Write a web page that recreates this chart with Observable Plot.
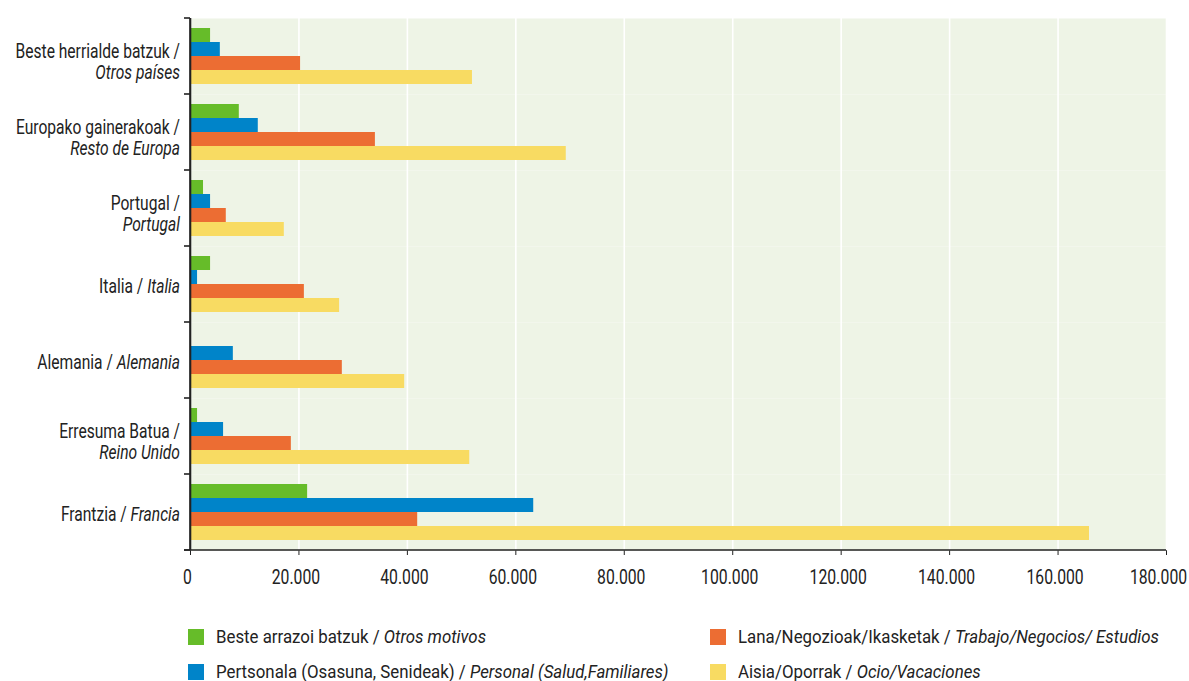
<!DOCTYPE html>
<html>
<head>
<meta charset="utf-8">
<script src="https://cdn.jsdelivr.net/npm/d3@7"></script>
<script src="https://cdn.jsdelivr.net/npm/@observablehq/plot@0.6"></script>
<style>
  html, body { margin: 0; padding: 0; background: #ffffff; }
  body { font-family: Roboto, "DejaVu Sans Condensed", sans-serif; color: #222; width: 1189px; height: 681px; overflow: hidden; position: relative; }
  #chart svg { display: block; overflow: visible; }
  #legend { position: relative; width: 1189px; height: 81px; font-size: 18.5px; color: #222; }
  .item { position: absolute; display: flex; align-items: center; white-space: nowrap; }
  .sw { width: 16px; height: 16px; margin-right: 12px; flex: none; }
  .lab { display: inline-block; transform: scaleX(0.91); transform-origin: 0 50%; }
</style>
</head>
<body>
<div id="chart"></div>
<div id="legend"></div>
<script>
// ---- Data ----
const countriesEU = ["Beste herrialde batzuk", "Europako gainerakoak", "Portugal", "Italia", "Alemania", "Erresuma Batua", "Frantzia"];
const countriesES = ["Otros países", "Resto de Europa", "Portugal", "Italia", "Alemania", "Reino Unido", "Francia"];
const wrappedCountries = ["Beste herrialde batzuk", "Europako gainerakoak", "Portugal", "Erresuma Batua"];

const motivesEU = ["Beste arrazoi batzuk", "Pertsonala (Osasuna, Senideak)", "Lana/Negozioak/Ikasketak", "Aisia/Oporrak"];
const motivesES = ["Otros motivos", "Personal (Salud,Familiares)", "Trabajo/Negocios/ Estudios", "Ocio/Vacaciones"];
const motiveColors = ["#66BC29", "#0084C9", "#EC6D33", "#F8DB62"];

const otros    = [3700,  9000,  2400,  3700,  0,     1300,  21600];
const personal = [5500,  12500, 3700,  1300,  7900,  6100,  63300];
const trabajo  = [20300, 34100, 6600,  21000, 28000, 18600, 41900];
const ocio     = [52000, 69300, 17300, 27500, 39500, 51500, 165800];

const xTicks = [0, 20000, 40000, 60000, 80000, 100000, 120000, 140000, 160000, 180000];

(function () {
  const SX = 0.8;      // horizontal compression of category labels (condensed typeface)
  const SX_TICK = 0.75; // horizontal compression of tick labels
  const series = [otros, personal, trabajo, ocio];
  const data = countriesEU.flatMap((c, i) => motivesEU.map((m, j) => ({country: c, motive: m, value: series[j][i]})));

  const locale = d3.formatLocale({decimal: ",", thousands: ".", grouping: [3], currency: ["", "€"]});
  const fmt = locale.format(",");

  const FONT = "Roboto, 'DejaVu Sans Condensed', sans-serif";

  const plot = Plot.plot({
    width: 1189,
    height: 600,
    marginLeft: 190,
    marginRight: 23,
    marginTop: 16,
    marginBottom: 48,
    style: {fontFamily: FONT, fontSize: "21px", color: "#222", background: "transparent", overflow: "visible"},
    x: {domain: [0, 180000], ticks: xTicks, tickFormat: fmt, label: null, tickSize: 5, tickPadding: 14},
    y: {domain: motivesEU, axis: null, paddingInner: 0, paddingOuter: 0.7},
    fy: {domain: countriesEU, padding: 0, axis: null, label: null},
    color: {domain: motivesEU, range: motiveColors},
    marks: [
      Plot.frame({fill: "#EEF4E6", stroke: "none"}),
      Plot.ruleX(xTicks, {stroke: "#ffffff", strokeWidth: 1.6}),
      Plot.barX(data, {fy: "country", y: "motive", x: "value", fill: "motive", insetTop: 0, insetBottom: 0}),
      Plot.ruleX([0], {stroke: "#222", strokeWidth: 1.6})
    ]
  });
  document.getElementById("chart").appendChild(plot);

  // condense the x tick labels drawn by Plot's axis (last one nudged inward as in the original)
  const tickTexts = Array.from(plot.querySelectorAll("text"));
  tickTexts.forEach((t, k) => {
    const tr = t.getAttribute("transform") || "";
    const shift = k === tickTexts.length - 1 ? -8 : -3;
    t.setAttribute("transform", tr + ` translate(${shift},0) scale(${SX_TICK},1)`);
  });

  const svg = d3.select(plot);
  const fy = plot.scale("fy");
  const x = plot.scale("x");
  const xa = x.apply(0), xb = x.apply(180000);
  const bw = fy.bandwidth;
  const yTop = fy.apply(countriesEU[0]);
  const yBottom = fy.apply(countriesEU[countriesEU.length - 1]) + bw;

  const deco = svg.append("g").attr("stroke", "#222").attr("stroke-width", 1.6);
  deco.append("line").attr("x1", xa - 6).attr("x2", xb).attr("y1", yBottom).attr("y2", yBottom);
  const bounds = countriesEU.map(c => fy.apply(c)).concat([yBottom]);
  bounds.forEach(b => deco.append("line").attr("x1", xa - 6).attr("x2", xa).attr("y1", b).attr("y2", b));
  deco.append("line").attr("x1", xa).attr("x2", xa).attr("y1", yTop).attr("y2", yBottom);

  const labels = svg.append("g")
    .attr("font-family", FONT).attr("font-size", 19.5).attr("fill", "#222").attr("text-anchor", "end");
  const addText = (y) => labels.append("text").attr("transform", `translate(${xa - 10},${y}) scale(${SX},1)`);
  countriesEU.forEach((c, i) => {
    const cy = fy.apply(c) + bw / 2;
    if (wrappedCountries.includes(c)) {
      addText(cy + 2).text(c + " /");
      addText(cy + 23).attr("font-style", "italic").text(countriesES[i]);
    } else {
      const t = addText(cy + 9);
      t.append("tspan").text(c + " / ");
      t.append("tspan").attr("font-style", "italic").text(countriesES[i]);
    }
  });

  const legend = d3.select("#legend");
  const legendPos = [[188, 26], [188, 61], [710, 26], [710, 61]];
  motivesEU.forEach((m, j) => {
    const it = legend.append("div").attr("class", "item")
      .style("left", legendPos[j][0] + "px").style("top", legendPos[j][1] + "px");
    it.append("div").attr("class", "sw").style("background", motiveColors[j]);
    const s = it.append("span").attr("class", "lab");
    s.append("span").text(m + " / ");
    s.append("i").text(motivesES[j]);
  });
})();
</script>
</body>
</html>
